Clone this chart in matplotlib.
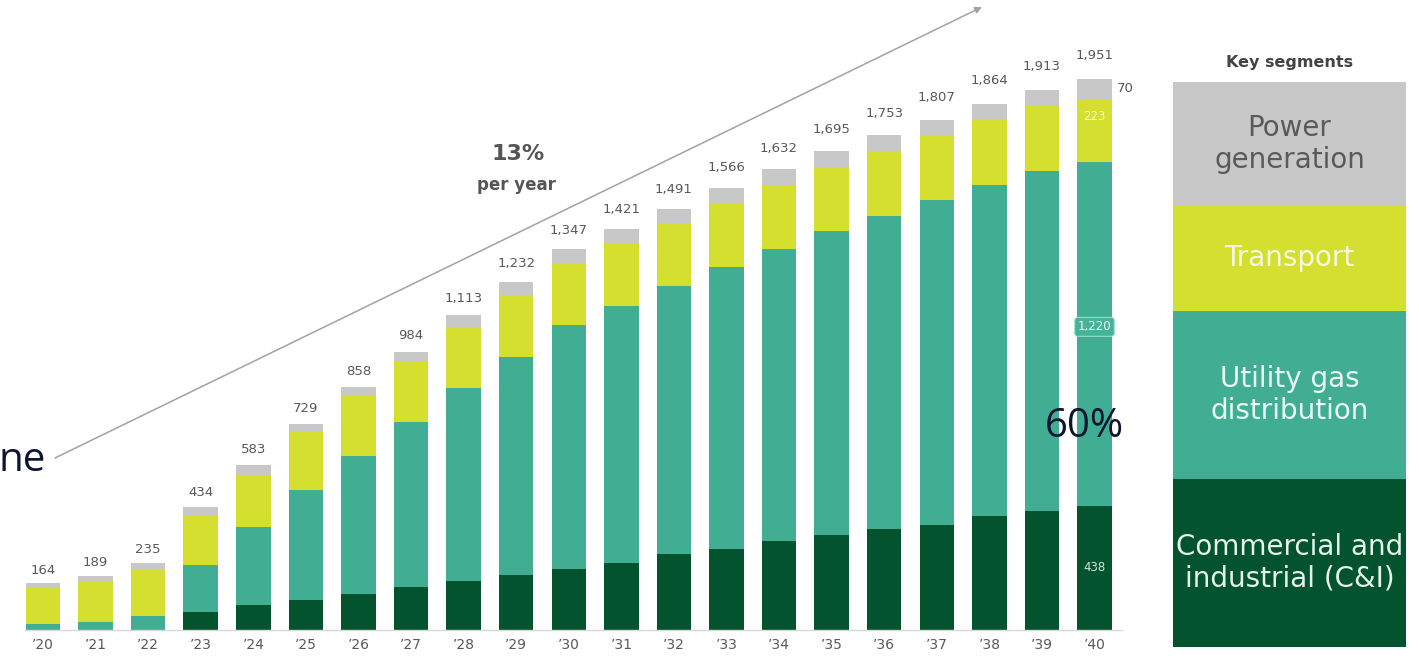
import matplotlib
matplotlib.use("Agg")
import matplotlib.pyplot as plt
from matplotlib.patches import Rectangle
import numpy as np

# ---------------- data ----------------
years = ["’20", "’21", "’22", "’23", "’24", "’25", "’26", "’27", "’28", "’29", "’30",
         "’31", "’32", "’33", "’34", "’35", "’36", "’37", "’38", "’39", "’40"]
ci = [0, 0, 0, 61, 86, 106, 127, 152, 172, 192, 216, 236, 266, 287, 313, 334, 357, 372, 403, 419, 438]
utility = [21, 27, 47, 166, 279, 388, 487, 582, 684, 775, 863, 911, 953, 996, 1036, 1078, 1108, 1149, 1173, 1205, 1220]
transport = [125, 143, 164, 178, 183, 210, 212, 218, 212, 218, 215, 222, 220, 224, 225, 226, 229, 229, 231, 231, 223]
power = [18, 19, 24, 29, 35, 25, 32, 32, 45, 47, 53, 52, 52, 59, 58, 57, 59, 57, 57, 58, 70]
totals = [164, 189, 235, 434, 583, 729, 858, 984, 1113, 1232, 1347, 1421, 1491, 1566, 1632,
          1695, 1753, 1807, 1864, 1913, 1951]
legend_labels = ["Power\ngeneration", "Transport", "Utility gas\ndistribution", "Commercial and\nindustrial (C&I)"]

# ---------------- style ----------------
C_GRAY = "#c8c8c8"
C_YEL = "#d5df2f"
C_TEAL = "#41ae94"
C_DARK = "#04532f"
TXT = "#585858"

W, H = 1419, 660
fig = plt.figure(figsize=(W / 100, H / 100), dpi=100)


def fpx(x, y):
    return x / W, 1 - y / H


# main axes: baseline at y=629.5 px, left at 25 px, right at 1135 px
base_px = 629.5
scale = (base_px - 79) / 1951.0  # px per unit
spacing = 52.575
x0c = 43.0
ax = fig.add_axes([25 / W, (H - base_px) / H, (1135 - 25) / W, base_px / H])
ax.set_xlim((25 - x0c) / spacing, (1135 - x0c) / spacing)
ax.set_ylim(0, base_px / scale)

x = np.arange(len(years))
ci_a = np.array(ci)
ut_a = np.array(utility)
tr_a = np.array(transport)
pw_a = np.array(power)
bw = 0.656
ax.bar(x, ci_a, bw, color=C_DARK, linewidth=0)
ax.bar(x, ut_a, bw, bottom=ci_a, color=C_TEAL, linewidth=0)
ax.bar(x, tr_a, bw, bottom=ci_a + ut_a, color=C_YEL, linewidth=0)
ax.bar(x, pw_a, bw, bottom=ci_a + ut_a + tr_a, color=C_GRAY, linewidth=0)

for s in ["top", "right", "left"]:
    ax.spines[s].set_visible(False)
ax.spines["bottom"].set_color("#d8d8d8")
ax.spines["bottom"].set_linewidth(1.0)
ax.spines["bottom"].set_bounds((25 - x0c) / spacing, (1122 - x0c) / spacing)
ax.set_yticks([])
ax.set_xticks(x)
ax.set_xticklabels(years, fontsize=10, color=TXT)
ax.tick_params(axis="x", length=0, pad=6)

# total labels
for i, t in enumerate(totals):
    off_px = 13 + 0.55 * i
    ax.annotate(f"{t:,}", xy=(i, t), xytext=(0, off_px * 0.72), textcoords="offset points",
                ha="center", va="center", fontsize=9.5, color=TXT)

# segment labels on the last bar
last = len(years) - 1
top_last = ci[last] + utility[last] + transport[last] + power[last]
ax.annotate(f"{power[last]}", xy=(last, top_last - power[last] / 2), xytext=(16, 0),
            textcoords="offset points", ha="left", va="center", fontsize=9.5, color=TXT)
ax.annotate(f"{transport[last]}", xy=(last, ci[last] + utility[last] + transport[last]),
            xytext=(0, -13), textcoords="offset points", ha="center", va="center",
            fontsize=8.5, color="#f6f7d8")
ax.annotate(f"{utility[last]:,}", xy=(last, ci[last] + utility[last] / 2), xytext=(0, 5),
            textcoords="offset points", ha="center", va="center", fontsize=8.5, color="#eef8f4",
            bbox=dict(boxstyle="round,pad=0.25", fc="#46b298", ec="#9fdccb", lw=0.8))
ax.annotate(f"{ci[last]}", xy=(last, ci[last] / 2), xytext=(0, 0),
            textcoords="offset points", ha="center", va="center", fontsize=8.5, color="#cfe6d8")

# growth arrow
fig.patches  # noqa
ax_arrow = fig.add_axes([0, 0, 1, 1], facecolor="none")
ax_arrow.set_xlim(0, W)
ax_arrow.set_ylim(H, 0)
ax_arrow.axis("off")
ax_arrow.annotate("", xy=(982, 7), xytext=(55, 458),
                  arrowprops=dict(arrowstyle="-|>", color="#a2a2a2", lw=1.1,
                                  mutation_scale=10, shrinkA=0, shrinkB=0))
ax_arrow.text(518, 154, "13%", ha="center", va="center", fontsize=16, fontweight="bold", color="#555555")
ax_arrow.text(516, 185, "per year", ha="center", va="center", fontsize=12, fontweight="bold", color="#555555")

# big overlay texts
ax_arrow.text(1084, 437, "60%", ha="center", va="baseline", fontsize=29,
              family="Open Sans", color="#0d1530")
ax_arrow.text(-1, 471, "ne", ha="left", va="baseline", fontsize=29,
              family="Open Sans", color="#0d1530")

# legend panel
lx0, lx1 = 1173, 1406
bounds = [82, 206, 311, 479, 647]
fills = [C_GRAY, C_YEL, C_TEAL, C_DARK]
tcols = ["#5a5a5a", "#f7f8e0", "#eafaf4", "#e6f3ea"]
for k in range(4):
    ax_arrow.add_patch(Rectangle((lx0, bounds[k]), lx1 - lx0, bounds[k + 1] - bounds[k],
                                 facecolor=fills[k], edgecolor="none"))
    ax_arrow.text((lx0 + lx1) / 2, (bounds[k] + bounds[k + 1]) / 2, legend_labels[k],
                  ha="center", va="center", fontsize=20, color=tcols[k], linespacing=1.15)
ax_arrow.text((lx0 + lx1) / 2, 62, "Key segments", ha="center", va="center",
              fontsize=11.5, fontweight="bold", color="#444444")

fig.savefig("out.png", dpi=100)
